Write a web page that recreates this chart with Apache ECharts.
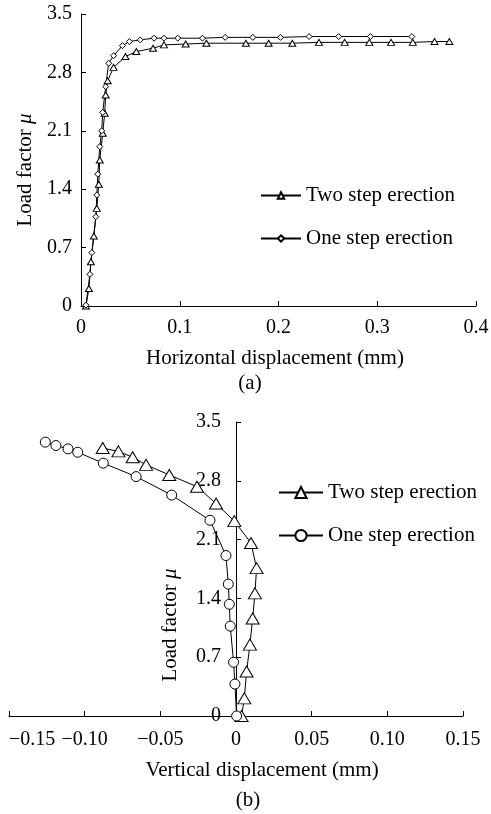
<!DOCTYPE html>
<html>
<head>
<meta charset="utf-8">
<script src="https://cdn.jsdelivr.net/npm/echarts@6/dist/echarts.min.js"></script>
<style>
  html, body { margin: 0; padding: 0; background: #fff; }
  #chart { width: 491px; height: 814px; }
</style>
</head>
<body>
<div id="chart"></div>
<script>
// (a) horizontal displacement (mm) vs load factor
var twoStepHX = [0.005, 0.008, 0.010, 0.013, 0.016, 0.018, 0.019, 0.022, 0.024, 0.025, 0.027, 0.033, 0.045, 0.056, 0.073, 0.084, 0.106, 0.127, 0.167, 0.190, 0.214, 0.241, 0.267, 0.292, 0.314, 0.336, 0.358, 0.373];
var twoStepHY = [0, 0.21, 0.53, 0.84, 1.17, 1.46, 1.75, 2.07, 2.31, 2.53, 2.70, 2.86, 2.99, 3.05, 3.09, 3.13, 3.14, 3.15, 3.15, 3.15, 3.15, 3.16, 3.16, 3.16, 3.16, 3.16, 3.17, 3.17];
var oneStepHX = [0.005, 0.009, 0.011, 0.015, 0.016, 0.017, 0.019, 0.021, 0.022, 0.025, 0.028, 0.033, 0.042, 0.049, 0.060, 0.074, 0.084, 0.098, 0.123, 0.146, 0.174, 0.202, 0.231, 0.261, 0.293, 0.335];
var oneStepHY = [0.01, 0.38, 0.64, 1.07, 1.33, 1.58, 1.91, 2.10, 2.32, 2.63, 2.91, 3.00, 3.12, 3.17, 3.19, 3.21, 3.21, 3.21, 3.21, 3.22, 3.22, 3.22, 3.23, 3.23, 3.23, 3.23];

// (b) vertical displacement (mm) vs load factor
var twoStepVX = [0.0037, 0.0055, 0.0070, 0.0092, 0.0110, 0.0125, 0.0136, 0.0099, -0.0011, -0.0132, -0.0258, -0.0441, -0.0594, -0.0683, -0.0777, -0.0881];
var twoStepVY = [0, 0.21, 0.53, 0.85, 1.16, 1.46, 1.76, 2.06, 2.32, 2.53, 2.73, 2.87, 2.99, 3.08, 3.15, 3.19];
var oneStepVX = [0.0004, -0.0007, -0.0016, -0.0038, -0.0044, -0.0051, -0.0066, -0.0172, -0.0425, -0.0660, -0.0877, -0.1046, -0.1110, -0.1190, -0.1260];
var oneStepVY = [0, 0.38, 0.64, 1.07, 1.33, 1.57, 1.91, 2.33, 2.63, 2.85, 3.01, 3.14, 3.18, 3.22, 3.26];

var seriesNames = ['Two step erection', 'One step erection'];
var captions = ['(a)', '(b)'];

var FONT = 'Liberation Serif';

function zip(xs, ys) {
  return xs.map(function (x, i) { return [x, ys[i]]; });
}

function axisBase() {
  return {
    axisLine: { lineStyle: { color: '#000', width: 1 } },
    axisTick: { inside: true, length: 5, lineStyle: { color: '#000', width: 1 } },
    splitLine: { show: false },
    axisLabel: { color: '#000', fontFamily: FONT, fontSize: 20 }
  };
}

function lineSeries(name, data, idx, symbol, size) {
  return {
    name: name,
    type: 'line',
    xAxisIndex: idx,
    yAxisIndex: idx,
    data: data,
    symbol: symbol,
    symbolSize: size,
    showAllSymbol: true,
    lineStyle: { color: '#000', width: 1 },
    itemStyle: { color: '#fff', borderColor: '#000', borderWidth: 1 },
    animation: false
  };
}

var chart = echarts.init(document.getElementById('chart'));

var xTop = axisBase();
xTop.gridIndex = 0; xTop.type = 'value'; xTop.min = 0; xTop.max = 0.4; xTop.interval = 0.1;
xTop.axisLabel.margin = 12;
var yTop = axisBase();
yTop.gridIndex = 0; yTop.type = 'value'; yTop.min = 0; yTop.max = 3.5; yTop.interval = 0.7;
yTop.axisLabel.margin = 9;

var xBot = axisBase();
xBot.gridIndex = 1; xBot.type = 'value'; xBot.min = -0.15; xBot.max = 0.15; xBot.interval = 0.05;
xBot.axisLabel.margin = 14;
xBot.axisLabel.alignMinLabel = 'left';
xBot.axisLabel.formatter = function (v) {
  if (Math.abs(v) < 1e-9) return '0';
  return (v < 0 ? '\u2212' : '') + Math.abs(v).toFixed(2);
};
var yBot = axisBase();
yBot.gridIndex = 1; yBot.type = 'value'; yBot.min = 0; yBot.max = 3.5; yBot.interval = 0.7;
// y axis sits at x = 0 (middle of the grid), labels follow it
yBot.axisLine.onZero = false;
yBot.offset = -227;
yBot.axisLabel.margin = 15;

function txt(x, y, text, rot) {
  return {
    type: 'text', x: x, y: y, rotation: rot || 0,
    style: {
      text: text, fill: '#000', fontFamily: FONT, fontSize: 21,
      align: 'center', verticalAlign: 'middle',
      rich: { i: { fontStyle: 'italic', fontFamily: FONT, fontSize: 21, fill: '#000' } }
    }
  };
}

chart.setOption({
  backgroundColor: '#fff',
  animation: false,
  grid: [
    { left: 81, top: 14, width: 395, height: 292, outerBoundsMode: 'none', containLabel: false },
    { left: 9, top: 422, width: 454, height: 294, outerBoundsMode: 'none', containLabel: false }
  ],
  xAxis: [xTop, xBot],
  yAxis: [yTop, yBot],
  legend: [
    {
      orient: 'vertical', left: 255, top: 180, itemWidth: 40, itemHeight: 8, itemGap: 22,
      textStyle: { color: '#000', fontFamily: FONT, fontSize: 21 },
      data: seriesNames
    },
    {
      orient: 'vertical', left: 273, top: 477, itemWidth: 44, itemHeight: 14, itemGap: 22,
      textStyle: { color: '#000', fontFamily: FONT, fontSize: 21 },
      formatter: function (n) { return n.replace(' (b)', ''); },
      data: [seriesNames[0] + ' (b)', seriesNames[1] + ' (b)']
    }
  ],
  graphic: [
    txt(275, 358, 'Horizontal displacement (mm)'),
    txt(250, 383, captions[0]),
    txt(25, 170, 'Load factor {i|\u03bc}', Math.PI / 2),
    txt(262, 770, 'Vertical displacement (mm)'),
    txt(248, 800, captions[1]),
    txt(170, 625, 'Load factor {i|\u03bc}', Math.PI / 2)
  ],
  series: [
    lineSeries(seriesNames[0], zip(twoStepHX, twoStepHY), 0, 'triangle', [7, 6]),
    lineSeries(seriesNames[1], zip(oneStepHX, oneStepHY), 0, 'diamond', [6, 6]),
    lineSeries(seriesNames[0] + ' (b)', zip(twoStepVX, twoStepVY), 1, 'triangle', [13, 11]),
    lineSeries(seriesNames[1] + ' (b)', zip(oneStepVX, oneStepVY), 1, 'circle', 10)
  ]
});
</script>
</body>
</html>
